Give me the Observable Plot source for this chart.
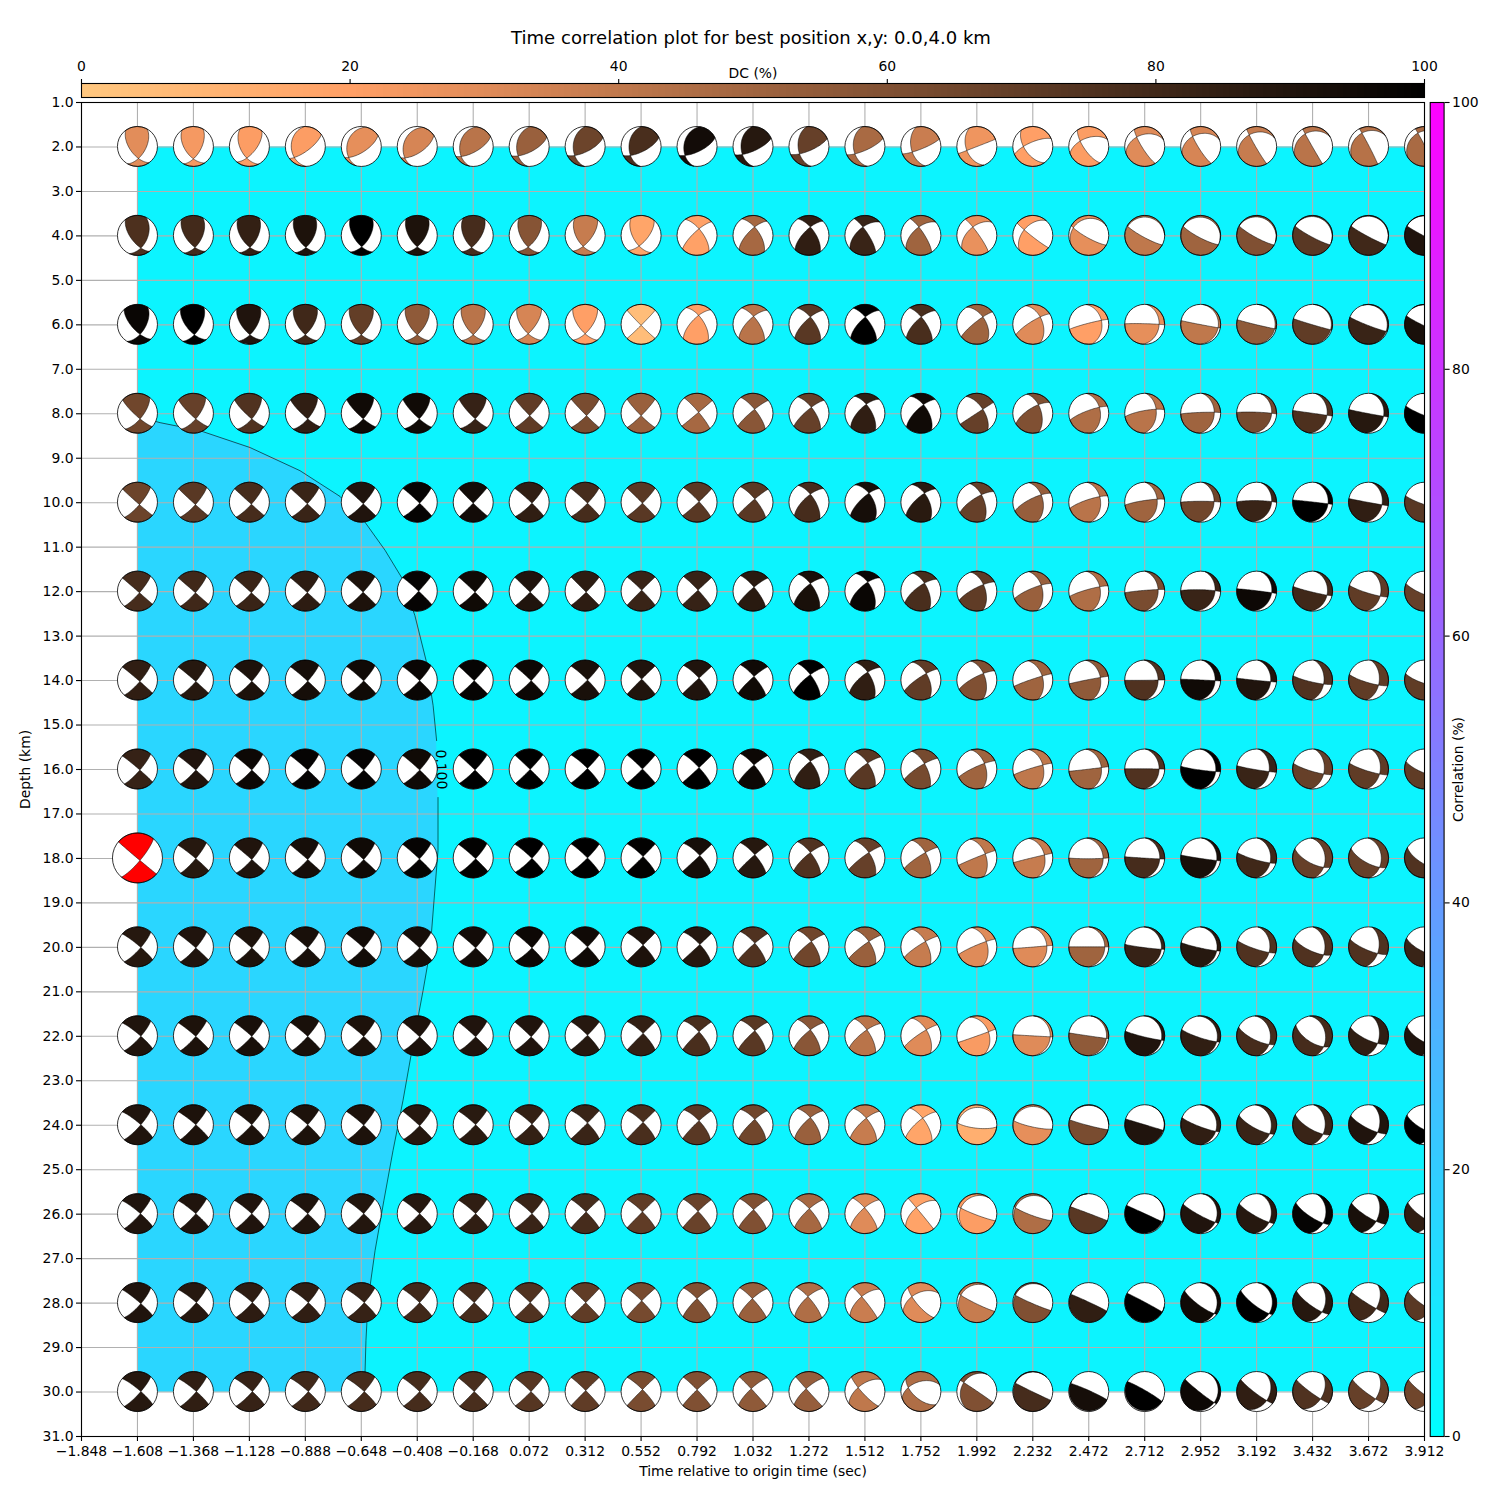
<!DOCTYPE html>
<html>
<head>
<meta charset="utf-8">
<script src="https://cdn.jsdelivr.net/npm/d3@7"></script>
<script src="https://cdn.jsdelivr.net/npm/@observablehq/plot@0.6"></script>
<style>
html,body{margin:0;padding:0;background:#fff;overflow:hidden}
#wrap{position:relative;width:1500px;height:1500px}
#wrap svg{position:absolute;left:0;top:0}
#title{position:absolute;left:0;width:1502px;top:27px;text-align:center;font:18.06px "DejaVu Sans";color:#000}
</style>
</head>
<body>
<div id="wrap"><div id="title">Time correlation plot for best position x,y: 0.0,4.0 km</div></div>
<script>
const timeTicks=[-1.848,-1.608,-1.368,-1.128,-0.888,-0.648,-0.408,-0.168,0.072,0.312,0.552,0.792,1.032,1.272,1.512,1.752,1.992,2.232,2.472,2.712,2.952,3.192,3.432,3.672,3.912];
const depthTicks=[1,2,3,4,5,6,7,8,9,10,11,12,13,14,15,16,17,18,19,20,21,22,23,24,25,26,27,28,29,30,31];
const depths=[2,4,6,8,10,12,14,16,18,20,22,24,26,28,30];
const contourTime=[-1.608,-1.511,-1.34,-1.125,-0.911,-0.739,-0.632,-0.546,-0.473,-0.418,-0.37,-0.34,-0.325,-0.319,-0.319,-0.336,-0.353,-0.383,-0.431,-0.469,-0.512,-0.551,-0.589,-0.619,-0.628,-0.632,-0.632];
const contourDepth=[8.06,8.2,8.38,8.76,9.28,9.86,10.44,11.07,11.7,12.54,13.55,14.56,15.35,16.63,17.82,18.94,20.07,20.97,22.32,23.44,24.57,25.69,26.82,27.94,28.84,29.56,30];
// B-axis position (east, north, in hundredths of the focal sphere radius), per depth then time
const bEast=[
[5,0,-13,-55,-63,-62,-60,-55,-52,-53,-60,-53,-47,-50,-43,-50,-47,-43,-40,-40,-37,-37,-33,-33],
[17,8,3,3,2,0,-8,-5,-10,-10,10,8,7,-10,-10,-20,-43,-77,-85,-87,-87,-88,-88,-88],
[13,5,3,0,0,0,0,-5,0,0,8,3,7,2,2,30,37,63,72,87,90,90,88,88],
[13,12,12,12,10,10,10,3,7,0,8,8,12,7,13,30,28,53,57,68,75,72,75,80],
[10,10,10,10,10,12,0,14,12,7,10,9,7,20,18,23,42,55,62,67,75,77,67,70],
[10,10,10,10,9,7,9,5,5,3,5,5,7,14,18,33,42,55,67,72,75,72,58,60],
[12,12,12,12,12,12,5,10,12,3,10,5,7,14,27,33,47,58,67,72,70,55,50,50],
[12,12,12,12,12,12,9,5,12,7,10,5,7,14,18,38,50,63,72,75,62,55,55,50],
[10,12,12,12,12,11,12,14,12,10,14,9,7,20,23,42,58,72,75,80,67,55,55,50],
[17,12,12,12,12,12,12,14,12,10,14,9,12,20,23,47,70,80,83,80,62,55,45,40],
[17,12,12,12,12,12,12,10,12,10,10,9,7,10,27,58,87,88,83,80,62,55,45,35],
[17,12,12,12,12,12,12,14,12,10,10,9,7,7,9,-95,-95,-96,93,75,65,52,45,35],
[15,12,12,12,12,12,12,14,5,7,5,3,2,-2,-23,-80,-87,-92,87,72,62,52,38,30],
[17,15,15,15,15,12,5,5,3,3,0,-3,-5,-16,-45,-80,-87,-92,88,67,62,47,38,30],
[17,15,15,15,15,12,5,9,3,7,0,-9,-14,-34,-63,-65,-87,-93,87,67,50,40,35,30]];
const bNorth=[
[-60,-62,-58,-55,-55,-57,-50,-47,-45,-45,-45,-40,-37,-37,-28,-20,0,27,47,50,58,63,67,67],
[-63,-60,-60,-60,-57,-57,-60,-58,-55,-53,33,42,42,42,42,42,28,38,45,45,47,47,47,47],
[-50,-52,-52,-52,-52,-52,-52,-47,-47,-5,45,40,37,37,37,37,37,20,0,-17,-22,-27,-35,-42],
[-28,-28,-28,-28,-28,-28,-28,-12,-12,-12,5,20,30,45,43,20,43,30,20,5,0,-10,-15,-35],
[-12,-12,-10,-8,-8,-5,-5,-5,-5,-5,3,16,40,45,45,37,37,28,15,3,3,-8,-13,-30],
[-8,-8,-8,-7,-5,0,-5,-5,-5,5,5,20,38,45,40,33,30,22,8,2,-8,-20,-25,-35],
[-7,-7,-6,-5,-4,-3,-3,-3,0,5,10,18,27,40,33,33,20,13,0,-3,-8,-20,-25,-30],
[-5,-5,-5,-5,-5,-5,-5,-2,3,0,7,20,38,30,27,28,20,7,0,-13,-13,-25,-25,-35],
[-10,-3,-8,-8,-8,-5,-4,-2,0,7,12,16,27,27,27,20,15,-2,-5,-13,-25,-47,-47,-50],
[-3,-5,-5,-5,-5,-5,-5,-5,0,9,12,18,27,27,27,27,5,0,-12,-20,-28,-40,-33,-40],
[-2,-3,-3,-3,-3,-5,-5,-5,3,12,20,25,30,30,30,20,-5,-13,-22,-30,-43,-55,-38,-45],
[0,0,0,0,-2,-5,0,3,9,12,20,27,36,33,33,8,20,25,-28,-33,-45,-47,-38,-40],
[0,0,0,0,0,0,0,0,9,9,12,20,25,30,30,28,30,35,-40,-43,-43,-47,-38,-40],
[-5,0,0,0,0,0,0,0,0,9,20,20,30,30,30,37,37,43,-47,-55,-55,-47,-30,-35],
[0,0,0,0,0,0,0,0,5,10,9,14,14,20,20,45,42,42,-50,-55,-45,-37,-37,-35]];
// azimuth of the compressional quadrant's bisector at the B axis, degrees
const tAngle=[
[-3,-3,5,20,28,30,30,30,30,30,32,30,29,28,27,24,16,17,18,18,17,16,16,16],
[-5,-4,-3,-2,0,0,2,3,3,5,5,5,5,8,8,7,-5,-8,-9,-8,-8,-10,-12,-14],
[-5,-4,-3,0,0,0,0,0,0,0,5,5,5,5,6,10,18,33,48,55,57,60,62,65],
[-5,-5,-5,-5,-4,-3,-2,0,0,0,5,6,7,7,7,12,20,30,40,45,50,53,55,60],
[-4,-3,-3,-2,-2,-1,-1,-1,-1,0,2,5,7,8,10,18,25,32,40,47,50,52,55,58],
[-4,-4,-3,-3,-2,-2,-1,-1,0,0,2,5,8,10,14,22,27,33,42,50,53,56,58,60],
[-4,-4,-3,-3,-2,-2,-1,-1,0,0,2,4,8,11,15,22,28,35,44,48,50,54,57,58],
[-4,-4,-3,-3,-2,-2,-1,-1,0,0,2,4,7,11,15,24,30,38,46,50,53,57,58,60],
[-5,-5,-4,-4,-3,-2,-2,-1,0,0,2,4,7,11,15,24,32,43,48,52,56,60,62,64],
[-4,-4,-3,-3,-3,-2,-2,-1,0,0,2,4,8,11,15,25,40,45,50,54,58,60,62,63],
[-4,-4,-3,-3,-3,-2,-2,-1,0,0,2,4,7,10,14,25,48,53,55,57,60,62,63,65],
[-4,-4,-3,-3,-3,-2,-2,-1,0,0,2,3,5,6,8,-26,-24,-27,62,60,63,65,66,67],
[-4,-4,-3,-3,-3,-2,-2,-1,0,0,1,2,3,4,5,-20,-18,-25,70,68,68,70,72,73],
[-4,-4,-3,-3,-3,-2,-2,-1,0,0,1,2,3,5,10,-15,-18,-22,75,72,73,74,75,76],
[-4,-4,-3,-3,-3,-2,-2,-1,0,0,1,2,3,5,10,-12,-18,-25,80,80,78,78,78,78]];
const dcValues=[
[29,23,21,21,28,33,42,52,66,77,94,88,68,47,37,25,20,21,30,33,38,42,43,47],
[76,79,84,91,100,91,78,58,38,17,19,48,85,82,50,27,20,28,40,50,60,72,80,90],
[97,100,90,80,69,55,42,33,20,5,20,42,72,100,77,50,30,20,28,40,55,70,82,92],
[65,68,75,85,95,95,83,70,62,52,48,57,68,85,95,68,60,45,42,50,63,76,88,100],
[66,72,78,82,90,98,94,85,78,72,72,72,78,93,87,68,53,42,50,65,82,100,85,72],
[78,80,82,86,91,98,95,90,86,82,83,87,92,97,77,70,52,45,62,82,96,80,70,68],
[85,88,91,93,95,97,98,96,92,90,90,95,100,85,70,60,50,55,75,95,90,75,70,70],
[83,90,96,98,98,95,100,100,100,100,100,96,85,72,63,50,40,50,75,100,82,68,70,70],
[85,88,90,93,95,98,99,100,100,99,93,88,75,68,50,40,38,50,78,92,80,68,68,75],
[88,90,91,92,94,93,94,96,95,91,88,75,65,52,38,30,30,50,83,88,75,75,75,82],
[90,91,92,92,91,91,90,90,88,84,77,72,57,42,30,22,30,55,90,85,78,78,85,90],
[90,91,91,91,91,88,87,84,82,77,72,65,52,38,17,12,28,62,90,85,82,82,90,100],
[90,90,90,90,89,88,85,82,78,70,67,60,48,30,18,21,45,72,100,90,88,98,92,85],
[90,88,86,85,83,80,78,75,70,63,60,52,45,37,30,38,60,85,100,95,100,88,80,72],
[88,85,83,80,78,78,77,73,70,62,60,55,53,40,45,60,78,93,100,96,85,75,68,65]];
const dcBarTicks=[0,20,40,60,80,100];
const corrBarTicks=[0,20,40,60,80,100];

const copperR=t=>{const v=1-t;return `rgb(${Math.min(255,318.75*v)},${199.2*v},${126.9*v})`;};
const cool=t=>`rgb(${255*t},${255*(1-t)},255)`;
const rad=Math.PI/180;
const dot3=(a,b)=>a[0]*b[0]+a[1]*b[1]+a[2]*b[2];
const cross3=(a,b)=>[a[1]*b[2]-a[2]*b[1],a[2]*b[0]-a[0]*b[2],a[0]*b[1]-a[1]*b[0]];
const proj=x=>{const h=Math.hypot(x[0],x[1]);if(h<1e-9)return[0,0];const th=Math.atan2(h,Math.max(x[2],0));const r=Math.SQRT2*Math.sin(th/2);return[r*x[0]/h,r*x[1]/h];};
// a beachball's compressional quadrants, as a Plot symbol (lower-hemisphere equal-area)
function quadrants(east,north,angle){
  let E=east/100,N=north/100,r=Math.hypot(E,N);
  if(r<1e-6){E=1e-6;N=0;r=1e-6;}
  if(r>0.995){E*=0.995/r;N*=0.995/r;r=0.995;}
  const th=2*Math.asin(r/Math.SQRT2),se=E/r,sn=N/r,az=Math.atan2(E,N),psi=angle*rad-az;
  const B=[Math.sin(th)*se,Math.sin(th)*sn,Math.cos(th)];
  const er=[Math.cos(th)*se,Math.cos(th)*sn,-Math.sin(th)],ea=[sn,-se,0];
  const T=[0,1,2].map(i=>Math.cos(psi)*er[i]+Math.sin(psi)*ea[i]);
  const P=cross3(B,T);
  const planes=[[0,1,2].map(i=>T[i]+P[i]),[0,1,2].map(i=>T[i]-P[i])].map(n=>{const l=Math.hypot(...n);return n.map(v=>v/l);});
  const rays=[];
  for(const n of planes){const u=cross3(n,B);for(const sgn of[1,-1]){const w=u.map(v=>v*sgn);
    const end=Math.atan2(B[2],-w[2]);const pts=[];
    for(let k=0;k<=24;k++){const s=end*k/24;pts.push(proj([0,1,2].map(i=>Math.cos(s)*B[i]+Math.sin(s)*w[i])));}
    const last=pts[pts.length-1];rays.push({pts,az:Math.atan2(last[0],last[1])});}}
  rays.sort((a,b)=>a.az-b.az);
  return {draw(ctx,size){
    const R=Math.sqrt(size/Math.PI);
    for(let i=0;i<4;i++){
      const a=rays[i],b=rays[(i+1)%4];let a2=b.az;if(a2<a.az)a2+=2*Math.PI;
      const mid=(a.az+a2)/2,x=[Math.sin(mid),Math.cos(mid),0];
      if(dot3(x,T)**2<=dot3(x,P)**2)continue;
      a.pts.forEach((p,k)=>{k?ctx.lineTo(p[0]*R,-p[1]*R):ctx.moveTo(p[0]*R,-p[1]*R);});
      ctx.arc(0,0,R,a.az-Math.PI/2,a2-Math.PI/2,false);
      for(let k=b.pts.length-2;k>=0;k--)ctx.lineTo(b.pts[k][0]*R,-b.pts[k][1]*R);
      ctx.closePath();
    }
  }};
}
const cells=[];
depths.forEach((depth,i)=>timeTicks.slice(1).forEach((t,j)=>{
  cells.push({t,depth,dc:dcValues[i][j],sym:quadrants(bEast[i][j],bNorth[i][j],tAngle[i][j])});
}));
const isBest=d=>d.depth===18&&d.t===-1.608;
const regular=cells.filter(d=>!isBest(d)),best=cells.filter(isBest);
const contour=contourTime.map((t,i)=>({t,d:contourDepth[i]}));
const contourUpper=contour.filter(p=>p.d<15.5),contourLower=contour.filter(p=>p.d>16.5);
const baseStyle={background:"transparent",fontFamily:"DejaVu Sans",fontSize:"13.9px",color:"#000",overflow:"visible"};
const symbolOf={value:d=>d.sym,scale:null};

const main=Plot.plot({
  width:1500,height:1500,marginLeft:81,marginRight:76,marginTop:102,marginBottom:64,
  style:baseStyle,
  x:{domain:[-1.848,3.912]},
  y:{domain:[1,31],reverse:true},
  color:{type:"linear",domain:[0,100],interpolate:copperR},
  marks:[
    Plot.rect([0],{x1:()=>-1.608,x2:()=>3.912,y1:()=>2,y2:()=>30,fill:"#0cf4ff"}),
    Plot.areaX(contour,{y:"d",x1:()=>-1.608,x2:"t",fill:"#2ad6ff"}),
    Plot.gridX(timeTicks,{stroke:"#b0b0b0",strokeOpacity:1,strokeWidth:1.1}),
    Plot.gridY(depthTicks,{stroke:"#b0b0b0",strokeOpacity:1,strokeWidth:1.1}),
    Plot.line(contourUpper,{x:"t",y:"d",stroke:"#000",strokeWidth:0.6}),
    Plot.line(contourLower,{x:"t",y:"d",stroke:"#000",strokeWidth:0.6}),
    Plot.text(["0.100"],{x:()=>-0.306,y:()=>16,text:d=>d,rotate:88,fontSize:13.9,fill:"#000"}),
    Plot.dot(regular,{x:"t",y:"depth",r:20,dy:-0.5,fill:"white",stroke:null,clip:"frame"}),
    Plot.dot(regular,{x:"t",y:"depth",r:20,dy:-0.5,symbol:symbolOf,fill:"dc",stroke:"#000",strokeWidth:0.5,clip:"frame"}),
    Plot.dot(regular,{x:"t",y:"depth",r:20,dy:-0.5,fill:"none",stroke:"#000",strokeWidth:0.8,clip:"frame"}),
    Plot.dot(best,{x:"t",y:"depth",r:25,dy:-0.5,fill:"white",stroke:null}),
    Plot.dot(best,{x:"t",y:"depth",r:25,dy:-0.5,symbol:symbolOf,fill:"red",stroke:"#000",strokeWidth:0.5}),
    Plot.dot(best,{x:"t",y:"depth",r:25,dy:-0.5,fill:"none",stroke:"#000",strokeWidth:0.8}),
    Plot.frame({stroke:"#000",strokeWidth:1.1}),
    Plot.axisX({ticks:timeTicks,tickFormat:d3.format(".3f"),tickSize:5,tickPadding:5,strokeWidth:1.1,label:"Time relative to origin time (sec)",labelAnchor:"center",labelArrow:"none",labelOffset:39,fill:"#000"}),
    Plot.axisY({ticks:depthTicks,tickFormat:d3.format(".1f"),tickSize:5,tickPadding:3,strokeWidth:1.1,label:"Depth (km)",labelAnchor:"center",labelArrow:"none",labelOffset:61,fill:"#000"})
  ]
});
const dcBar=Plot.plot({
  width:1500,height:100,marginLeft:81,marginRight:76,marginTop:83,marginBottom:3,
  style:baseStyle,
  x:{domain:[0,100]},
  color:{type:"linear",domain:[0,100],interpolate:copperR},
  marks:[
    Plot.rect(d3.range(0,100,0.5),{x1:d=>d,x2:d=>d+0.5,fill:d=>d,shapeRendering:"crispEdges"}),
    Plot.frame({stroke:"#000",strokeWidth:1.1}),
    Plot.axisX({anchor:"top",ticks:dcBarTicks,tickFormat:d=>d,tickSize:5,tickPadding:8,strokeWidth:1.1,label:null,fill:"#000"}),
    Plot.text(["DC (%)"],{x:()=>50,frameAnchor:"top",dy:-6,lineAnchor:"bottom",text:d=>d,fontSize:13.9,fill:"#000"})
  ]
});
const corrBar=Plot.plot({
  width:1500,height:1500,marginLeft:1429.7,marginRight:56.4,marginTop:102,marginBottom:64,
  style:baseStyle,
  y:{domain:[0,100]},
  color:{type:"linear",domain:[0,100],interpolate:cool},
  marks:[
    Plot.rect(d3.range(0,100,0.5),{y1:d=>d,y2:d=>d+0.5,fill:d=>d,shapeRendering:"crispEdges"}),
    Plot.frame({stroke:"#000",strokeWidth:1.1}),
    Plot.axisY({anchor:"right",ticks:corrBarTicks,tickFormat:d=>d,tickSize:5,tickPadding:3,strokeWidth:1.1,label:null,fill:"#000"}),
    Plot.text(["Correlation (%)"],{y:()=>50,frameAnchor:"right",dx:14.4,text:d=>d,rotate:-90,textAnchor:"middle",fontSize:13.9,fill:"#000"})
  ]
});
document.getElementById("wrap").append(main,dcBar,corrBar);
</script>
</body>
</html>
